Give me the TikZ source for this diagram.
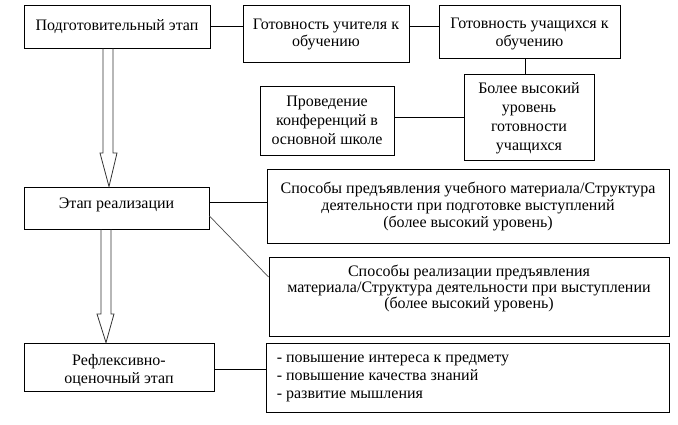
\documentclass[tikz,border=0pt]{standalone}
\usepackage{fontspec}
\setmainfont{Liberation Serif}
\newfontfamily\tnr{Liberation Serif}
\usetikzlibrary{calc}
\begin{document}
\begin{tikzpicture}[x=1pt,y=-1pt,
  box/.style={draw, line width=0.9pt, inner sep=0pt, align=center},
  txt/.style={inner sep=0pt, align=center, font=\tnr\fontsize{16}{17}\selectfont},
  wide/.style={font=\tnr\fontsize{16}{19}\selectfont},
  conn/.style={line width=0.9pt},
  harrow/.style={line width=0.8pt, draw=black!80}]
\useasboundingbox (0,0) rectangle (678,424);
\fill[white] (0,0) rectangle (678,424);
% boxes
\node[box, minimum width=186pt, minimum height=43pt] (A) at (117,26.5) {};
\node[txt] at ($(A.center)+(0,0)$) {Подготовительный этап};
\node[box, minimum width=166pt, minimum height=57pt] (B) at (326,33.5) {};
\node[txt] at ($(B.center)+(0,1)$) {Готовность учителя к\\обучению};
\node[box, minimum width=181pt, minimum height=53pt] (C) at (529.5,31.5) {};
\node[txt, font=\tnr\fontsize{16}{18}\selectfont] at ($(C.center)+(0,2)$) {Готовность учащихся к\\обучению};
\node[box, minimum width=130pt, minimum height=86pt] (D) at (529,117) {};
\node[txt, wide] at ($(D.center)+(0,1)$) {Более высокий\\уровень\\готовности\\учащихся};
\node[box, minimum width=134pt, minimum height=69pt] (E) at (327,120.5) {};
\node[txt, wide] at ($(E.center)+(0,0)$) {Проведение\\конференций в\\основной школе};
\node[box, minimum width=185pt, minimum height=42pt] (F) at (116.5,208) {};
\node[txt] at ($(F.center)+(0,-3)$) {Этап реализации};
\node[box, minimum width=402pt, minimum height=74pt] (G) at (468,206) {};
\node[txt] at ($(G.center)+(0,0)$) {Способы предъявления учебного материала/Структура\\деятельности при подготовке выступлений\\(более высокий уровень)};
\node[box, minimum width=400pt, minimum height=79pt] (H) at (469,296.5) {};
\node[txt, font=\tnr\fontsize{16}{16}\selectfont] at ($(H.center)+(0,-8)$) {Способы реализации предъявления\\материала/Структура деятельности при выступлении\\(более высокий уровень)};
\node[box, minimum width=190pt, minimum height=48pt] (I) at (119,367) {};
\node[txt, font=\tnr\fontsize{16}{18}\selectfont] at ($(I.center)+(0,3)$) {Рефлексивно-\\оценочный этап};
\node[box, minimum width=403pt, minimum height=69pt] (J) at (467.5,377.5) {};
\node[txt, align=left, anchor=west, font=\tnr\fontsize{16}{18}\selectfont] at ($(J.west)+(11,1)$) {- повышение интереса к предмету\\- повышение качества знаний\\- развитие мышления};
% connectors
\draw[conn] (A.east) -- (B.west |- A.east);
\draw[conn] (B.east |- 0,26) -- (C.west |- 0,26);
\draw[conn] (D.north -| 525,0) -- (C.south -| 525,0);
\draw[conn] (E.east |- 0,117) -- (D.west |- 0,117);
\draw[conn] (F.east |- 0,202) -- (G.west |- 0,202);
\draw[line width=0.7pt, draw=black!70] (F.east |- 0,216) -- (H.west |- 0,277);
\draw[conn] (I.east |- 0,369) -- (J.west |- 0,369);
% hollow arrows
\draw[harrow] (A.south -| 103,0) -- (103,153) -- (100,153) -- (F.north -| 109,0) -- (117,153) -- (113,153) -- (A.south -| 113,0);
\draw[harrow] (F.south -| 101,0) -- (101,314) -- (97,314) -- (I.north -| 106,0) -- (114,314) -- (111,314) -- (F.south -| 111,0);
\end{tikzpicture}
\end{document}
